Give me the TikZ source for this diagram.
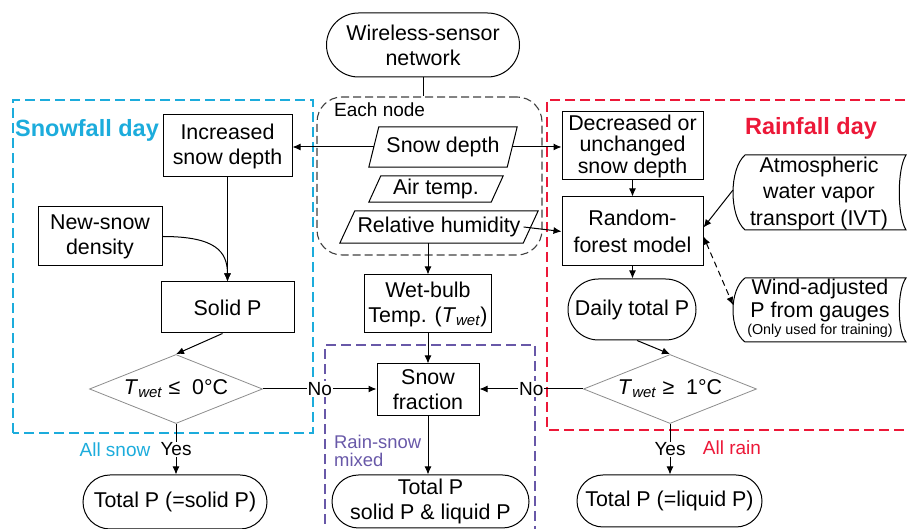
\documentclass[tikz,border=0pt]{standalone}
\usepackage{fontspec}
\setmainfont{Liberation Sans}
\usetikzlibrary{arrows.meta,shapes.geometric,shapes.misc,calc}
\definecolor{snowc}{RGB}{28,172,220}
\definecolor{rainc}{RGB}{236,24,56}
\definecolor{mixc}{RGB}{104,88,168}
\newcommand{\Tw}{\textit{T}\textsubscript{\textit{wet}}}
\begin{document}
\begin{tikzpicture}[x=1pt,y=1pt,
  font=\fontsize{21.4}{25}\selectfont,
  ln/.style={line width=1pt},
  box/.style={draw, line width=1pt, inner sep=0pt, align=center},
  pill/.style={draw, line width=1pt, rounded rectangle, inner sep=0pt, align=center},
  txt/.style={inner sep=0pt, align=center},
  dia/.style={draw=black!45, line width=0.8pt, diamond, aspect=2.5, inner sep=0pt, minimum width=173, minimum height=69},
  arr/.style={line width=1pt, -{Latex[length=8pt,width=7pt]}},
  lab/.style={font=\fontsize{19}{21}\selectfont, fill=white, inner sep=1pt},
  region/.style={line width=1.6pt, dash pattern=on 10pt off 5pt},
]
\useasboundingbox (0,0) rectangle (908,529);

% regions
\draw[region, snowc] (13,96) rectangle (313,429);
\draw[region, rainc] (920,429) -- (547,429) -- (547,99) -- (920,99);
\draw[region, mixc] (325,-10) -- (325,184) -- (535,184) -- (535,-10);
\node[draw=black!75, line width=1.1pt, dash pattern=on 8pt off 4pt, rounded corners=25pt,
      minimum width=225, minimum height=158, inner sep=0pt] (each) at (429.5,353) {};

% region labels
\node[anchor=west, text=snowc, font=\bfseries\fontsize{23.5}{26}\selectfont, inner sep=0pt] (snowlab) at (15,399) {Snowfall day};
\node[text=rainc, font=\bfseries\fontsize{23.5}{26}\selectfont, inner sep=0pt] (rainlab) at (811,401) {Rainfall day};
\node[anchor=north west, text=mixc, font=\fontsize{18.4}{18}\selectfont, align=left, inner sep=0pt] (mixlab) at (334,94) {Rain-snow\\mixed};
\node[anchor=west, font=\fontsize{19}{21}\selectfont, inner sep=0pt] (eachlab) at (334,419) {Each node};

% centre column
\node[pill, minimum width=193, minimum height=64] (net) at (423,484) {Wireless-sensor\\network};
\node[txt, minimum width=138, minimum height=40] (sd) at (443,382) {Snow depth};
\draw[ln] ([xshift=5]sd.north west) -- ([xshift=5]sd.north east) -- ([xshift=-5]sd.south east) -- ([xshift=-5]sd.south west) -- cycle;
\node[txt, minimum width=122, minimum height=26] (at) at (436,340) {Air temp.};
\draw[ln] ([xshift=6]at.north west) -- ([xshift=6]at.north east) -- ([xshift=-6]at.south east) -- ([xshift=-6]at.south west) -- cycle;
\node[txt, minimum width=183, minimum height=32] (rh) at (439,302) {Relative humidity};
\draw[ln] ([xshift=7.5]rh.north west) -- ([xshift=7.5]rh.north east) -- ([xshift=-7.5]rh.south east) -- ([xshift=-7.5]rh.south west) -- cycle;
\node[box, minimum width=127, minimum height=58] (wb) at (428,225) {Wet-bulb\\Temp. (\Tw)};
\node[box, minimum width=102, minimum height=52] (sf) at (428,139) {Snow\\fraction};
\node[pill, minimum width=197, minimum height=53] (tpm) at (430.5,27.5) {Total P\\solid P \& liquid P};

% left column
\node[box, minimum width=129, minimum height=62] (inc) at (227.5,383) {Increased\\snow depth};
\node[box, minimum width=124, minimum height=59] (nsd) at (100,292.5) {New-snow\\density};
\node[box, minimum width=133, minimum height=51] (solid) at (227.5,221.5) {Solid P};
\node[dia] (d0) at (176,140) {\Tw{} ≤~ 0°C};
\node[pill, minimum width=184, minimum height=54] (tps) at (175,27) {Total P (=solid P)};
\node[font=\fontsize{19}{21}\selectfont, text=snowc, inner sep=0pt] (allsnow) at (115,79) {All snow};

% right column
\node[box, minimum width=141, minimum height=68, font=\fontsize{21.4}{21.5}\selectfont] (dec) at (632.5,383) {Decreased or\\unchanged\\snow depth};
\node[box, minimum width=141, minimum height=69, font=\fontsize{21.4}{27}\selectfont] (rf) at (632.5,297.5) {Random-\\forest model};
\node[pill, minimum width=128, minimum height=61] (dtp) at (632,219.5) {Daily total P};
\node[dia] (d1) at (670,140) {\Tw{} ≥~ 1°C};
\node[pill, minimum width=185, minimum height=52] (tpl) at (669.5,28) {Total P (=liquid P)};
\node[font=\fontsize{19}{21}\selectfont, text=rainc, inner sep=0pt] (allrain) at (732,81) {All rain};

% stored-data shapes
\draw[ln] (745,374) -- (906,374) .. controls (897,360) and (897,313) .. (906,299) -- (745,299) .. controls (729,313) and (729,360) .. cycle;
\node[txt, font=\fontsize{21.4}{26.5}\selectfont] (atm) at (819,336) {Atmospheric\\water vapor\\transport (IVT)};
\draw[ln] (745,251) -- (906,251) .. controls (897,239) and (897,199) .. (906,187) -- (745,187) .. controls (729,199) and (729,239) .. cycle;
\node[txt, font=\fontsize{21.4}{23}\selectfont] (wind) at (820,229) {Wind-adjusted\\P from gauges};
\node[anchor=base, font=\fontsize{14.3}{16}\selectfont, inner sep=0pt] (windnote) at (820,194) {(Only used for training)};
\coordinate (atmw) at (733,339);
\coordinate (windw) at (733,224);

% connectors
\draw[ln] (net.south) -- (net.south |- each.north);
\draw[arr] (sd.west) -- (sd.west -| inc.east);
\draw[arr] (sd.east) -- (sd.east -| dec.west);
\draw[arr] ([xshift=-7]rh.east) -- (rf.west);
\draw[arr] (wb.north |- rh.south) -- (wb.north);
\draw[arr] (wb.south) -- (sf.north);
\draw[arr] (sf.south) -- (sf.south |- tpm.north);
\draw[arr] (inc.south) -- (solid.north);
\draw[arr] (nsd.east) .. controls (215,292.5) and (227.5,278) .. (solid.north);
\draw[arr] ([xshift=-5]solid.south) -- (d0.north);
\draw[arr] (d0.east) -- node[lab]{No} (d0.east -| sf.west);
\draw[arr] (d1.west) -- node[lab]{No} (d1.west -| sf.east);
\draw[arr] (d0.south) -- node[lab]{Yes} (d0.south |- tps.north);
\draw[arr] (d1.south) -- node[lab]{Yes} (d1.south |- tpl.north);
\draw[arr] (dec.south) -- (rf.north);
\draw[arr] (rf.south) -- (rf.south |- dtp.north);
\draw[arr] ([xshift=5]dtp.south) -- (d1.north);
\draw[arr] (atmw) -- ([yshift=4]rf.east);
\draw[ln, dash pattern=on 6pt off 4pt, {Latex[length=8pt,width=7pt]}-{Latex[length=8pt,width=7pt]}] ([yshift=-5]rf.east) -- (windw);
\end{tikzpicture}
\end{document}
